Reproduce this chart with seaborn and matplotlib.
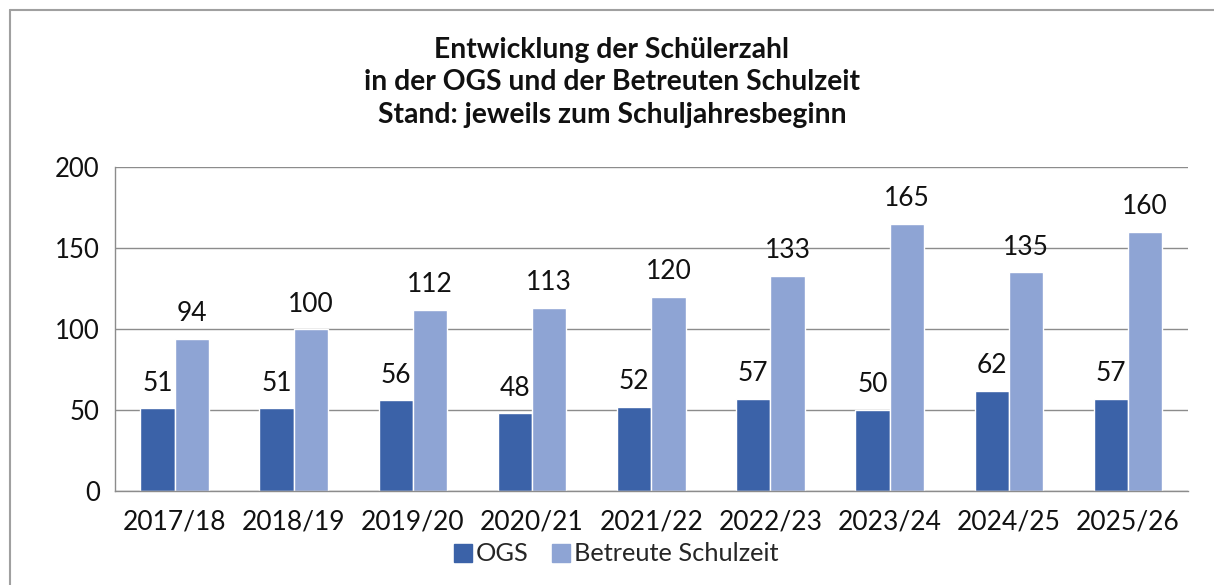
import pandas as pd
import matplotlib.pyplot as plt
import seaborn as sns
from matplotlib.lines import Line2D

# Data
years = ['2017/18', '2018/19', '2019/20', '2020/21', '2021/22',
         '2022/23', '2023/24', '2024/25', '2025/26']
ogs = [51, 51, 56, 48, 52, 57, 50, 62, 57]
betreute = [94, 100, 112, 113, 120, 133, 165, 135, 160]
series_names = ['OGS', 'Betreute Schulzeit']
colors = ['#3B62A8', '#8EA4D4']

df = pd.DataFrame({'Jahr': years * 2,
                   'Wert': ogs + betreute,
                   'Serie': [series_names[0]] * len(years) + [series_names[1]] * len(years)})

sns.set_style('white')
plt.rcParams['font.family'] = ['Lato', 'DejaVu Sans']

fig = plt.figure(figsize=(12.14, 5.85), dpi=100)
ax = fig.add_axes([0.0947, 0.1607, 0.8835, 0.5538])

sns.barplot(data=df, x='Jahr', y='Wert', hue='Serie', palette=colors,
            width=0.575, gap=0, saturation=1, ax=ax, legend=False)

# value labels
for cont in ax.containers:
    ax.bar_label(cont, padding=9, fontsize=19, color='#111111')

ax.set_ylim(0, 200)
ax.set_xlim(-0.5, len(years) - 0.5)
ax.set_yticks([0, 50, 100, 150, 200])
ax.yaxis.grid(True, color='#8c8c8c', lw=1)
ax.set_axisbelow(True)
ax.set_xlabel('')
ax.set_ylabel('')

for side in ['top', 'right']:
    ax.spines[side].set_visible(False)
for side in ['left', 'bottom']:
    ax.spines[side].set_color('#8c8c8c')
    ax.spines[side].set_linewidth(1)

ax.tick_params(axis='y', labelsize=18.5, length=6, width=1, color='#8c8c8c',
               direction='out', pad=5, labelcolor='#111111')
ax.tick_params(axis='x', which='major', labelsize=19, length=0, pad=13,
               labelcolor='#111111')
ax.set_xticks([i - 0.5 for i in range(len(years) + 1)], minor=True)
ax.tick_params(axis='x', which='minor', length=6, width=1, color='#8c8c8c',
               direction='out')

fig.text(0.504, 0.859, 'Entwicklung der Schülerzahl\nin der OGS und der Betreuten Schulzeit\n'
         'Stand: jeweils zum Schuljahresbeginn', ha='center', va='center',
         fontsize=20.3, fontweight='bold', linespacing=1.29, color='#111111')

handles = [Line2D([], [], marker='s', ls='', markersize=13, color=c) for c in colors]
fig.legend(handles, series_names, loc='center', bbox_to_anchor=(0.506, 0.053),
           ncol=2, frameon=False, fontsize=18.3, handletextpad=0.0,
           columnspacing=0.8, handlelength=1.0)

# outer chart border (top and left visible)
fig.add_artist(Line2D([9.5 / 1214, 9.5 / 1214], [0, 1 - 9.5 / 585],
                      transform=fig.transFigure, color='#a0a0a0', lw=1.5))
fig.add_artist(Line2D([9.5 / 1214, 1], [1 - 9.5 / 585, 1 - 9.5 / 585],
                      transform=fig.transFigure, color='#a0a0a0', lw=1.5))

fig.savefig('out.png', dpi=100)
